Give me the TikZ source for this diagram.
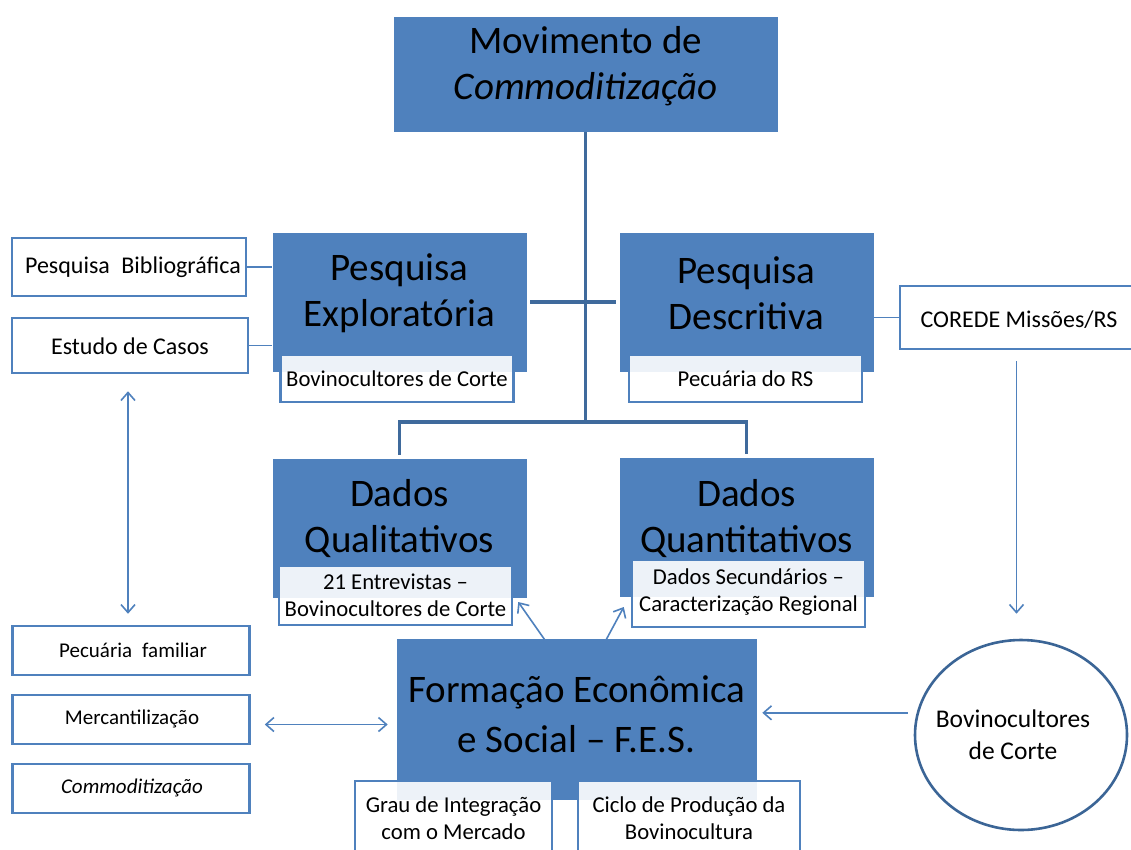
\documentclass[tikz,border=0pt]{standalone}
\usepackage{fontspec}
\setmainfont{Carlito}
\usetikzlibrary{arrows.meta,calc,shapes.geometric}
\definecolor{boxblue}{HTML}{4F81BD}
\definecolor{treeblue}{HTML}{3F6A9C}
\definecolor{circblue}{HTML}{3B6596}
\begin{document}
\begin{tikzpicture}[x=1pt,y=-1pt,
  bigbox/.style={fill=boxblue, draw=white, line width=0.6pt, inner sep=0pt},
  subbox/.style={draw=boxblue, line width=2.5pt, fill=white, fill opacity=0.9, text opacity=1, inner sep=0pt},
  sidebox/.style={draw=boxblue, line width=2.5pt, fill=white, inner sep=0pt},
  bigtext/.style={font=\fontsize{39}{46}\selectfont, align=center, inner sep=0pt},
  subtext/.style={font=\fontsize{22.7}{27}\selectfont, align=center, inner sep=0pt},
  sidetext/.style={font=\fontsize{24}{28}\selectfont, align=center, inner sep=0pt},
  smalltext/.style={font=\fontsize{21}{24}\selectfont, align=center, inner sep=0pt},
  tree/.style={draw=treeblue, line width=3.2pt},
  thinline/.style={draw=boxblue, line width=1.6pt},
  thinarrow/.style={draw=boxblue, line width=1.6pt, arrows={-Straight Barb[length=8pt,width=14pt,line width=1.6pt]}},
  dblarrow/.style={draw=boxblue, line width=1.6pt, arrows={Straight Barb[length=8pt,width=14pt,line width=1.6pt]-Straight Barb[length=8pt,width=14pt,line width=1.6pt]}}
]
\clip (0,0) rectangle (1131,849);
\fill[white] (0,0) rectangle (1131,849);

% top box
\node[bigbox, minimum width=385pt, minimum height=116pt] (top) at (585.5,74) {};
\node[bigtext] (toptext) at (585.5,66) {Movimento de\\\textit{Commoditização}};

% level 2
\node[bigbox, minimum width=255pt, minimum height=140pt] (expl) at (399.5,302) {};
\node[bigtext] (expltext) at (399.5,293) {Pesquisa\\Exploratória};
\node[subbox, minimum width=233pt, minimum height=47pt] (explsub) at (397,378.5) {};
\node[subtext] (explsubtext) at (397,379) {Bovinocultores de Corte};

\node[bigbox, minimum width=255pt, minimum height=140pt] (descr) at (746.5,302) {};
\node[bigtext] (descrtext) at (746.5,293) {Pesquisa\\Descritiva};
\node[subbox, minimum width=233pt, minimum height=47pt] (descrsub) at (745.5,378.5) {};
\node[subtext] (descrsubtext) at (745.5,379) {Pecuária do RS};

% level 3
\node[bigbox, minimum width=255pt, minimum height=140pt] (qual) at (399.5,528) {};
\node[bigtext] (qualtext) at (399.5,519) {Dados\\Qualitativos};
\node[subbox, minimum width=233pt, minimum height=59pt] (qualsub) at (395.5,595.5) {};
\node[subtext] (qualsubtext) at (395.5,595) {21 Entrevistas –\\Bovinocultores de Corte};

\node[bigbox, minimum width=255pt, minimum height=140pt] (quant) at (746.5,527) {};
\node[bigtext] (quanttext) at (746.5,519) {Dados\\Quantitativos};
\node[subbox, minimum width=233pt, minimum height=67pt] (quantsub) at (748.5,593.5) {};
\node[subtext] (quantsubtext) at (748.5,592) {Dados Secundários –\\Caracterização Regional};

% FES
\node[bigbox, minimum width=361pt, minimum height=162pt] (fes) at (576.5,719) {};
\node[bigtext, font=\fontsize{39}{50}\selectfont] (festext) at (576.5,714) {Formação Econômica\\e Social – F.E.S.};
\node[subbox, minimum width=197pt, minimum height=80pt] (grau) at (453.5,821) {};
\node[subtext] (grautext) at (453.5,818) {Grau de Integração\\com o Mercado};
\node[subbox, minimum width=222pt, minimum height=80pt] (ciclo) at (689,821) {};
\node[subtext] (ciclotext) at (689,818) {Ciclo de Produção da\\Bovinocultura};

% left side boxes
\node[sidebox, minimum width=234pt, minimum height=58pt] (bibl) at (129,267) {};
\node[sidetext] (bibltext) at (133,267) {Pesquisa\hspace{0.25em} Bibliográfica};
\node[sidebox, minimum width=236pt, minimum height=55pt] (estudo) at (130,345.5) {};
\node[sidetext] (estudotext) at (130,346) {Estudo de Casos};

\node[sidebox, minimum width=237pt, minimum height=49pt] (pecfam) at (131,650.5) {};
\node[smalltext] (pecfamtext) at (133,650) {Pecuária\hspace{0.25em} familiar};
\node[sidebox, minimum width=237pt, minimum height=49pt] (merc) at (131,719.5) {};
\node[smalltext] (merctext) at (132,719) {Mercantilização};
\node[sidebox, minimum width=237pt, minimum height=49pt] (commod) at (131,788.5) {};
\node[smalltext] (commodtext) at (132,788) {\textit{Commoditização}};

% right side
\node[sidebox, minimum width=233pt, minimum height=63pt] (corede) at (1016.5,317.5) {};
\node[sidetext] (coredetext) at (1019,320) {COREDE Missões/RS};
\node[ellipse, draw=circblue, line width=2.6pt, fill=white, minimum width=212pt, minimum height=190pt, inner sep=0pt] (circ) at (1021,735) {};
\node[sidetext, font=\fontsize{25.5}{32}\selectfont] (circtext) at (1013,735) {Bovinocultores\\de Corte};

% tree connectors
\coordinate (junc) at (585.5,422);
\draw[tree] (top.south) -- (junc);
\draw[tree, line cap=rect] ([yshift=4pt]qual.north) |- (junc) -| ([yshift=4pt]quant.north);
\draw[tree, shorten <=3pt, shorten >=3pt] (expl.east) -- (descr.west);

% thin connectors
\draw[thinline] (bibl.east) -- (bibl.east -| expl.west);
\draw[thinline] (estudo.east) -- (estudo.east -| expl.west);
\draw[thinline] (descr.east |- corede.west) -- (corede.west);

% arrows
\draw[thinarrow, shorten <=11pt, shorten >=25pt] (corede.south) -- (corede.south |- circ.north);
\draw[thinarrow, shorten <=9pt, shorten >=5pt] (circ.168) -- (circ.168 -| fes.east);
\draw[dblarrow, shorten <=14pt, shorten >=8pt] ([yshift=-5pt]merc.east) -- ([yshift=-5pt]merc.east -| fes.west);
\draw[dblarrow, shorten <=17pt, shorten >=11pt] ([xshift=-2pt]estudo.south) -- ([xshift=-2pt]estudo.south |- pecfam.north);
\draw[thinarrow] ($(fes.north west)+(156,12)$) -- ($(qualsub.east)+(5,6.5)$);
\draw[thinarrow] ($(fes.north west)+(204,14)$) -- ($(quantsub.west)+(-7,13.5)$);
\end{tikzpicture}
\end{document}
